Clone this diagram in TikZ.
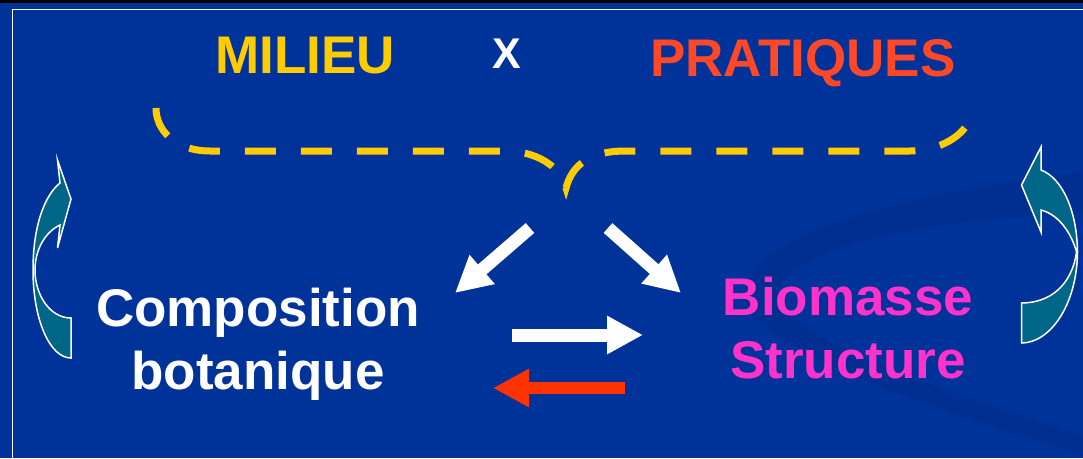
\documentclass[tikz,border=0pt]{standalone}
\usepackage{fontspec}
\setmainfont{Liberation Sans}
\usetikzlibrary{arrows.meta}
\definecolor{fond}{RGB}{0,51,153}
\definecolor{fondsombre}{RGB}{0,47,145}
\definecolor{jaune}{RGB}{255,204,0}
\definecolor{rougeor}{RGB}{255,72,40}
\definecolor{rouge}{RGB}{255,51,0}
\definecolor{rose}{RGB}{255,51,204}
\definecolor{bleuvert}{RGB}{0,102,136}
\begin{document}
\begin{tikzpicture}[x=1pt,y=-1pt,
    titre/.style={font=\bfseries\fontsize{53}{63}\selectfont,anchor=base,align=center},
    bloc/.style={line width=13pt,-{Triangle[length=36pt,width=36pt]}},
    courbe/.style={fill=bleuvert,draw=white,line width=1.5pt,line join=miter}]
\useasboundingbox (0,0) rectangle (1083,458);
\clip (0,0) rectangle (1083,458);
% fond
\fill[fond] (0,0) rectangle (1083,458);
\fill[black] (0,0) rectangle (1083,2.5);
\fill[fondsombre] (1083,172) .. controls (900,195) and (760,230) .. (745,290)
   .. controls (735,340) and (900,400) .. (1083,455) -- (1083,435)
   .. controls (920,385) and (770,330) .. (780,290)
   .. controls (795,245) and (920,222) .. (1083,212) -- cycle;
\draw[white,line width=1.5pt] (12.5,9.5) rectangle (1100,480);
% textes
\node[titre,text=jaune](milieu)at(305,73){MILIEU};
\node[titre,text=white,font=\bfseries\fontsize{43}{50}\selectfont](x)at(507,68){X};
\node[titre,text=rougeor](pratiques)at(803,76){PRATIQUES};
\node[titre,text=white](compo)at(258,389){Composition\\botanique};
\node[titre,text=rose](bio)at(848,378){Biomasse\\Structure};
% accolade
\draw[jaune,line width=7pt,dash pattern=on 31pt off 25pt]
   (156,108) .. controls (156,130) and (175,151) .. (210,151) -- (505,151)
   .. controls (535,151) and (560,165) .. (566,188)
   .. controls (572,165) and (590,151) .. (625,151) -- (910,151)
   .. controls (940,151) and (965,135) .. (970,118);
% fleches
\coordinate (h1) at (530,228); \coordinate (h2) at (608,228);
\coordinate (c1) at (455,293); \coordinate (b1) at (681,293);
\draw[bloc,white](h1)--(c1);
\draw[bloc,white](h2)--(b1);
\coordinate (c2) at (512,335); \coordinate (b2) at (643,335);
\draw[bloc,white](c2)--(b2);
\coordinate (b3) at (625,388); \coordinate (c3) at (493,388);
\draw[bloc,rouge,line width=12pt](b3)--(c3);
% boucles
\draw[courbe] (71,358) .. controls (50,358) and (33,320) .. (33,270)
   .. controls (33,225) and (45,195) .. (60,183) -- (57.5,160) -- (71,199)
   -- (57.5,248) -- (60,225) .. controls (45,232) and (35,250) .. (35,270)
   .. controls (35,295) and (50,318) .. (71,318) -- cycle;
\draw[courbe] (1021.5,185) -- (1041,147) -- (1041,170)
   .. controls (1062,178) and (1077,210) .. (1077.5,252)
   .. controls (1077,305) and (1050,343) .. (1021.5,343) -- (1021.5,303)
   .. controls (1050,303) and (1072,285) .. (1076.5,252)
   .. controls (1072,235) and (1060,215) .. (1041,210) -- (1041,232) -- cycle;
\end{tikzpicture}
\end{document}
